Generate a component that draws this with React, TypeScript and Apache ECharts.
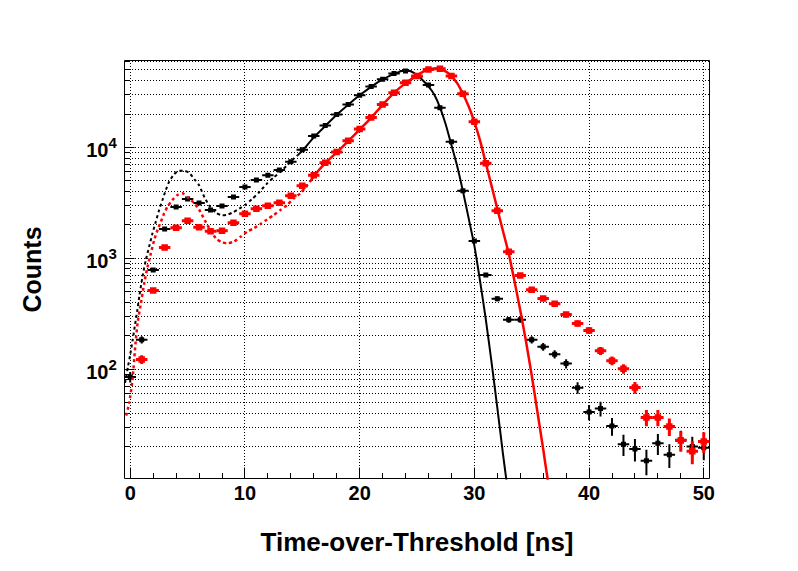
import React, { useEffect, useRef } from 'react';
import * as echarts from 'echarts';

const FONT = '"Liberation Sans", Arial, Helvetica, sans-serif';

// Axis ranges
const X_MIN = -0.5;
const X_MAX = 50.5;
const Y_MIN = 10.3;
const Y_MAX = 60800;

// Tick positions and labels
const xMajorTicks = [0, 10, 20, 30, 40, 50];
const xTickLabels = ['0', '10', '20', '30', '40', '50'];
const xMinorTicks = [2, 4, 6, 8, 12, 14, 16, 18, 22, 24, 26, 28, 32, 34, 36, 38, 42, 44, 46, 48];
const yMajorTicks = [100, 1000, 10000];
const yTickExponents = ['2', '3', '4'];
const yMinorTicks = [
  20, 30, 40, 50, 60, 70, 80, 90,
  200, 300, 400, 500, 600, 700, 800, 900,
  2000, 3000, 4000, 5000, 6000, 7000, 8000, 9000,
  20000, 30000, 40000, 50000, 60000,
];

// Histogram bin centres (ns)
const binCenters = [
  0, 1, 2, 3, 4, 5, 6, 7, 8, 9, 10, 11, 12, 13, 14, 15, 16, 17, 18, 19, 20,
  21, 22, 23, 24, 25, 26, 27, 28, 29, 30, 31, 32, 33, 34, 35, 36, 37, 38, 39, 40,
  41, 42, 43, 44, 45, 46, 47, 48, 49, 50,
];

// Black histogram counts
const blackCounts = [
  85, 184, 785, 1836, 2900, 3420, 3150, 2720, 2960, 3565, 4390,
  5070, 5620, 6240, 7420, 9500, 12640, 15780, 19830, 24390, 29600,
  35480, 41230, 46400, 48900, 43500, 36600, 22740, 11230, 4065, 1432,
  707, 430, 278, 278, 184, 159, 136, 112, 68, 41,
  44, 30.6, 21, 19, 14.9, 21.4, 16.9, 23, 20, 19.5,
];

// Red histogram counts (0 = empty bin)
const redCounts = [
  0, 122, 511, 1247, 1888, 2180, 1900, 1750, 1773, 2094, 2523,
  2800, 2978, 3170, 3664, 4510, 5620, 7265, 9070, 11460, 14620,
  18630, 24390, 31040, 38200, 44160, 50450, 51200, 44100, 30400, 17000,
  7180, 2680, 1146, 697, 520, 433, 388, 310, 258, 223,
  146, 119, 100.7, 68.3, 36.6, 36.6, 30.4, 22.7, 18.1, 22.2,
];

// Fit curves: [x, counts]
const blackFitOutside = [
  [-0.45, 75], [-0.2, 105], [0, 135], [0.2, 180], [0.4, 245], [0.6, 330], [0.8, 460],
  [1.07, 683], [1.36, 966], [1.65, 1273], [1.94, 1680], [2.23, 2137], [2.52, 2723],
  [2.81, 3350], [3.1, 4120], [3.39, 4900], [3.83, 5740], [4.26, 6150], [4.7, 6150],
  [5.13, 5900], [5.6, 5150], [6.0, 4550], [6.5, 3500], [7.0, 2870], [7.5, 2560],
  [8.0, 2440], [8.5, 2470], [9.0, 2610], [9.5, 2800], [10.0, 3020], [10.6, 3400],
  [11.2, 3900], [11.94, 4740], [12.52, 5370], [13.1, 6030], [13.68, 6920],
  [14.26, 7950], [14.6, 8500],
];
const blackFitRange = [
  [14.6, 8500], [15, 9300], [16, 12300], [17, 15600], [18, 19700], [19, 24300],
  [20, 29500], [21, 35200], [22, 41000], [23, 46000], [23.5, 48300], [24, 49600],
  [24.5, 48400], [25, 45000], [25.5, 40400], [26, 35500], [26.5, 30000], [27, 23000],
  [27.5, 16200], [28, 10500], [28.5, 6800], [29, 4050], [29.5, 2300], [30, 1300],
  [30.5, 620], [31, 280], [31.5, 115], [32, 45], [32.5, 17], [32.85, 9],
];
const redFitOutside = [
  [-0.35, 38], [-0.1, 49], [0.2, 80], [0.41, 149], [0.64, 260], [0.93, 393],
  [1.22, 596], [1.51, 840], [1.8, 1109], [2.09, 1462], [2.38, 1799], [2.67, 2137],
  [2.96, 2543], [3.25, 2917], [3.68, 3350], [4.12, 3715], [4.55, 3853], [5.0, 3550],
  [5.5, 3200], [6.0, 2750], [6.5, 2200], [7.0, 1780], [7.5, 1500], [8.0, 1390],
  [8.5, 1365], [9.04, 1413], [9.63, 1566], [10.2, 1738], [10.78, 1862], [11.36, 2037],
  [11.94, 2244], [12.52, 2455], [13.1, 2723], [13.68, 3020], [14.26, 3470],
  [14.84, 3853], [15.3, 4400], [15.8, 5100],
];
const redFitRange = [
  [15.8, 5100], [16, 5500], [17, 7200], [18, 9000], [19, 11400], [20, 14500],
  [21, 18500], [22, 24200], [23, 31000], [24, 38000], [25, 44500], [25.5, 48000],
  [26, 50500], [26.5, 51500], [27, 51000], [27.5, 48500], [28, 44000], [28.5, 38000],
  [29, 30500], [29.5, 23500], [30, 17000], [30.5, 11500], [31, 7200], [31.5, 4500],
  [32, 2800], [32.5, 1750], [33, 1100], [33.5, 620], [34, 340], [34.5, 178],
  [35, 88], [35.5, 41], [36, 19], [36.4, 10], [36.5, 9],
];

function textStyle(text: string, x: number, y: number, size: number, align: string) {
  return {
    text,
    x,
    y,
    font: `bold ${size}px ${FONT}`,
    fill: '#000',
    align,
    textAlign: align,
    verticalAlign: 'middle',
    textVerticalAlign: 'middle',
  };
}

// snap a coordinate to the centre of a pixel so 1px lines stay crisp
const snap = (v: number) => Math.round(v - 0.5) + 0.5;

function renderAxes(_params: any, api: any) {
  const bottom = api.coord([X_MIN, Y_MIN])[1];
  const top = api.coord([X_MIN, Y_MAX])[1];
  const left = api.coord([X_MIN, Y_MIN])[0];
  const right = api.coord([X_MAX, Y_MIN])[0];
  const gx0 = Math.ceil(left) + 1;
  const gx1 = Math.floor(right);
  const gy0 = Math.floor(bottom);
  const gy1 = Math.ceil(top);
  const children: any[] = [];
  const gridStyle = { stroke: '#000', lineWidth: 1, lineDash: [1, 2], fill: null };
  const tickStyle = { stroke: '#000', lineWidth: 1, fill: null };

  xMajorTicks.forEach((v, i) => {
    const raw = api.coord([v, Y_MIN])[0];
    const px = snap(raw);
    children.push({ type: 'line', shape: { x1: px, y1: gy0, x2: px, y2: gy1 }, style: gridStyle });
    children.push({ type: 'line', shape: { x1: px, y1: bottom, x2: px, y2: bottom - 11 }, style: tickStyle });
    children.push({ type: 'text', style: textStyle(xTickLabels[i], raw, bottom + 14, 20, 'center') });
  });
  xMinorTicks.forEach((v) => {
    const px = snap(api.coord([v, Y_MIN])[0]);
    children.push({ type: 'line', shape: { x1: px, y1: bottom, x2: px, y2: bottom - 5.5 }, style: tickStyle });
  });
  yMajorTicks.forEach((v, i) => {
    const raw = api.coord([X_MIN, v])[1];
    const py = snap(raw);
    children.push({ type: 'line', shape: { x1: gx0, y1: py, x2: gx1, y2: py }, style: gridStyle });
    children.push({ type: 'line', shape: { x1: left, y1: py, x2: left + 10, y2: py }, style: tickStyle });
    children.push({ type: 'text', style: textStyle('10', left - 16, raw + 2.7, 20, 'right') });
    children.push({ type: 'text', style: textStyle(yTickExponents[i], left - 7.6, raw - 4.8, 15, 'right') });
  });
  yMinorTicks.forEach((v) => {
    const py = snap(api.coord([X_MIN, v])[1]);
    children.push({ type: 'line', shape: { x1: gx0, y1: py, x2: gx1, y2: py }, style: gridStyle });
    children.push({ type: 'line', shape: { x1: left, y1: py, x2: left + 5.5, y2: py }, style: tickStyle });
  });
  return { type: 'group', children };
}

function makeHistRender(color: string, lw: number, ms: number) {
  return (_params: any, api: any) => {
    const x = api.value(0);
    const y = api.value(1);
    const e = Math.sqrt(y);
    const c = api.coord([x, y]);
    const l = api.coord([x - 0.5, y]);
    const r = api.coord([x + 0.5, y]);
    const t = api.coord([x, y + e]);
    const b = api.coord([x, Math.max(y - e, 0.01)]);
    const st = { stroke: color, lineWidth: lw, fill: null };
    return {
      type: 'group',
      children: [
        { type: 'line', shape: { x1: l[0], y1: c[1], x2: r[0], y2: c[1] }, style: st },
        { type: 'line', shape: { x1: c[0], y1: t[1], x2: c[0], y2: b[1] }, style: st },
        { type: 'rect', shape: { x: c[0] - ms / 2, y: c[1] - ms / 2, width: ms, height: ms }, style: { fill: color } },
      ],
    };
  };
}

function histData(counts: number[]) {
  const out: number[][] = [];
  counts.forEach((v, i) => {
    if (v > 0) out.push([binCenters[i], v]);
  });
  return out;
}

function curve(name: string, data: number[][], color: string, width: number, dotted: boolean, z: number) {
  return {
    type: 'line',
    name,
    data,
    showSymbol: false,
    symbol: 'none',
    smooth: 0.2,
    clip: true,
    z,
    lineStyle: { color, width, type: dotted ? [3, 3] : 'solid' },
    silent: true,
  };
}

export default function App() {
  const ref = useRef<HTMLDivElement>(null);
  useEffect(() => {
    document.body.style.margin = '0';
    if (!ref.current) return;
    const chart = echarts.init(ref.current, undefined, { renderer: 'svg' });
    chart.setOption({
      animation: false,
      backgroundColor: '#fff',
      grid: {
        left: 124.5,
        right: 88.5,
        top: 60.5,
        bottom: 92.5,
        show: true,
        borderColor: '#000',
        borderWidth: 1,
        backgroundColor: 'transparent',
      },
      xAxis: {
        type: 'value',
        min: X_MIN,
        max: X_MAX,
        axisLine: { show: false },
        axisTick: { show: false },
        axisLabel: { show: false },
        splitLine: { show: false },
        name: 'Time-over-Threshold [ns]',
        nameLocation: 'middle',
        nameGap: 50,
        nameTextStyle: { fontFamily: FONT, fontWeight: 'bold', fontSize: 26, color: '#000' },
      },
      yAxis: {
        type: 'log',
        logBase: 10,
        min: Y_MIN,
        max: Y_MAX,
        axisLine: { show: false },
        axisTick: { show: false },
        axisLabel: { show: false },
        splitLine: { show: false },
        name: 'Counts',
        nameLocation: 'middle',
        nameRotate: 90,
        nameGap: 80,
        nameTextStyle: { fontFamily: FONT, fontWeight: 'bold', fontSize: 25, color: '#000' },
      },
      series: [
        {
          type: 'custom',
          name: 'axes',
          renderItem: renderAxes,
          data: [[0, 100]],
          encode: { x: 0, y: 1 },
          z: 1,
          silent: true,
        },
        curve('black fit (outside range)', blackFitOutside, '#000', 2, true, 3),
        curve('black fit', blackFitRange, '#000', 2, false, 3),
        {
          type: 'custom',
          name: 'black',
          renderItem: makeHistRender('#000', 2, 5),
          data: histData(blackCounts),
          encode: { x: 0, y: 1 },
          clip: true,
          z: 4,
          silent: true,
        },
        curve('red fit (outside range)', redFitOutside, '#ff0000', 2.5, true, 5),
        curve('red fit', redFitRange, '#ff0000', 2.5, false, 5),
        {
          type: 'custom',
          name: 'red',
          renderItem: makeHistRender('#ff0000', 3, 6.5),
          data: histData(redCounts),
          encode: { x: 0, y: 1 },
          clip: true,
          z: 6,
          silent: true,
        },
      ],
    });
    return () => chart.dispose();
  }, []);
  return <div ref={ref} style={{ width: 798, height: 571 }} />;
}
